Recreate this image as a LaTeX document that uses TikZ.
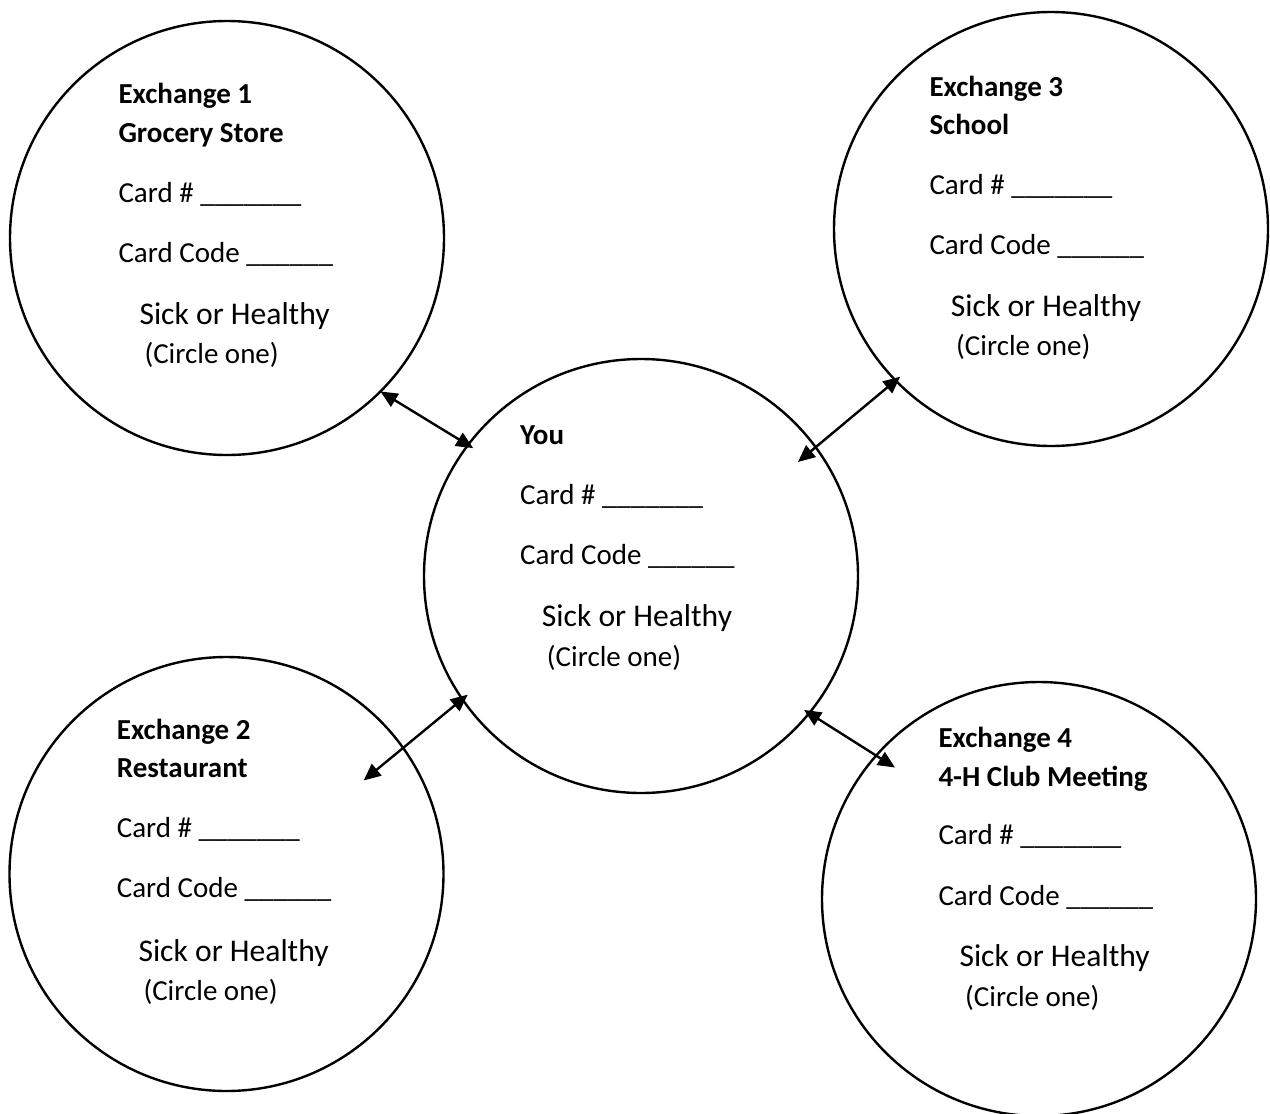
\documentclass[tikz,border=0pt]{standalone}
\usepackage{fontspec}
\setmainfont{Carlito}
\usetikzlibrary{arrows.meta,calc}
\begin{document}
\begin{tikzpicture}[x=1pt,y=-1pt,
  ring/.style={draw, line width=2.4pt, circle, minimum size=434pt, inner sep=0pt, outer sep=0pt},
  txt/.style={anchor=base west, inner sep=0pt, font=\fontsize{29}{35}\selectfont},
  head/.style={anchor=base west, inner sep=0pt, font=\fontsize{29}{35}\selectfont\bfseries},
  big/.style={anchor=base west, inner sep=0pt, font=\fontsize{31.6}{38}\selectfont},
  link/.style={line width=2.4pt, {Triangle[length=17pt,width=15pt]}-{Triangle[length=17pt,width=15pt]}}
]
\useasboundingbox (0,0) rectangle (1270,1114);
\fill[white] (0,0) rectangle (1270,1114);

% circles
\node[ring] (c1) at (227,238) {};
\node[ring] (c3) at (1051,229) {};
\node[ring] (you) at (641,576) {};
\node[ring] (c2) at (226.5,874) {};
\node[ring] (c4) at (1039,899) {};

% Exchange 1
\node[head] (c1h1) at (118.3,103.3) {Exchange 1};
\node[head] (c1h2) at (118.3,142.7) {Grocery Store};
\node[txt]  (c1n)  at (118.3,202.7) {Card \# \_\_\_\_\_\_\_};
\node[txt]  (c1c)  at (118.3,262.7) {Card Code \_\_\_\_\_\_};
\node[big]  (c1s)  at (139.3,324.3) {Sick or Healthy};
\node[txt]  (c1o)  at (144.3,363.3) {(Circle one)};

% Exchange 3
\node[head] (c3h1) at (929.3,96) {Exchange 3};
\node[head] (c3h2) at (929.3,134) {School};
\node[txt]  (c3n)  at (929.3,194) {Card \# \_\_\_\_\_\_\_};
\node[txt]  (c3c)  at (929.3,254) {Card Code \_\_\_\_\_\_};
\node[big]  (c3s)  at (950.7,316) {Sick or Healthy};
\node[txt]  (c3o)  at (956,355) {(Circle one)};

% You
\node[head] (yh)   at (520,444) {You};
\node[txt]  (yn)   at (520,504) {Card \# \_\_\_\_\_\_\_};
\node[txt]  (yc)   at (520,564) {Card Code \_\_\_\_\_\_};
\node[big]  (ys)   at (541.7,626.7) {Sick or Healthy};
\node[txt]  (yo)   at (546.7,666) {(Circle one)};

% Exchange 2
\node[head] (c2h1) at (116.7,739.3) {Exchange 2};
\node[head] (c2h2) at (116.7,777.3) {Restaurant};
\node[txt]  (c2n)  at (116.7,837.7) {Card \# \_\_\_\_\_\_\_};
\node[txt]  (c2c)  at (116.7,897.7) {Card Code \_\_\_\_\_\_};
\node[big]  (c2s)  at (138.3,961) {Sick or Healthy};
\node[txt]  (c2o)  at (143.3,1000) {(Circle one)};

% Exchange 4
\node[head] (c4h1) at (938.3,747.3) {Exchange 4};
\node[head] (c4h2) at (938.3,786) {4-H Club Meeting};
\node[txt]  (c4n)  at (938.3,844.3) {Card \# \_\_\_\_\_\_\_};
\node[txt]  (c4c)  at (938.3,905) {Card Code \_\_\_\_\_\_};
\node[big]  (c4s)  at (959.3,966.7) {Sick or Healthy};
\node[txt]  (c4o)  at (965,1006) {(Circle one)};

% connector end points
\coordinate (e1a) at ($(c1.center)+(-45:217pt)$);
\coordinate (e1b) at ($(you.center)+(142.7:211pt)$);
\coordinate (e3a) at ($(c3.center)+(-135.6:211pt)$);
\coordinate (e3b) at ($(you.center)+(36:194pt)$);
\coordinate (e2a) at ($(c2.center)+(34.3:166pt)$);
\coordinate (e2b) at ($(you.center)+(214.4:210pt)$);
\coordinate (e4a) at ($(you.center)+(-39.4:211pt)$);
\coordinate (e4b) at ($(c4.center)+(137.6:195pt)$);

\draw[link] (e1a) -- (e1b);
\draw[link] (e3a) -- (e3b);
\draw[link] (e2a) -- (e2b);
\draw[link] (e4a) -- (e4b);
\end{tikzpicture}
\end{document}
